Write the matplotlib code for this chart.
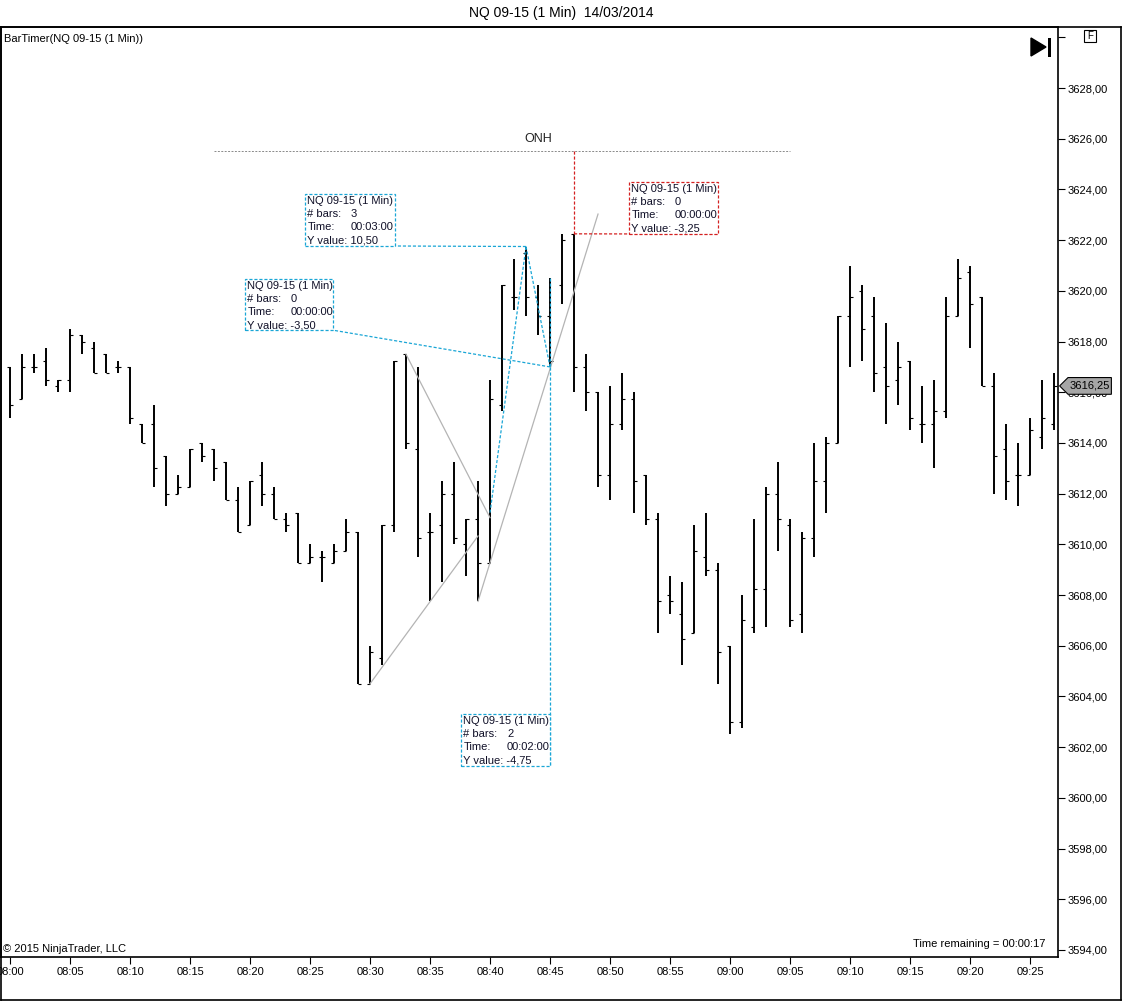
import matplotlib
matplotlib.use("Agg")
import matplotlib.pyplot as plt
from matplotlib.patches import Rectangle, Polygon
from matplotlib.lines import Line2D
import matplotlib.transforms as mtransforms

plt.rcParams['font.family'] = ['Liberation Sans', 'DejaVu Sans']

# ---------------- data ----------------
opens = [3617.0, 3615.75, 3617.0, 3617.25, 3616.25, 3616.5, 3618.25, 3617.75, 3617.5, 3617.0,
         3617.0, 3614.75, 3614.75, 3613.5, 3612.0, 3612.25, 3614.0, 3613.75, 3613.25, 3611.75,
         3610.75, 3612.75, 3612.0, 3611.0, 3611.25, 3609.25, 3609.5, 3609.25, 3609.75, 3610.5,
         3604.5, 3605.5, 3610.75, 3617.5, 3613.75, 3610.5, 3610.75, 3612.0, 3610.0, 3611.0,
         3609.25, 3615.5, 3619.75, 3621.5, 3619.75, 3619.0, 3620.25, 3622.25, 3617.0, 3616.0,
         3612.75, 3614.75, 3615.75, 3612.75, 3611.0, 3608.0, 3607.25, 3606.5, 3609.5, 3609.0,
         3606.0, 3603.0, 3606.75, 3608.25, 3612.0, 3610.75, 3607.25, 3610.25, 3612.5, 3614.0,
         3619.0, 3620.0, 3619.0, 3617.0, 3616.5, 3617.25, 3614.75, 3614.75, 3615.25, 3619.0,
         3620.75, 3619.75, 3616.25, 3613.75, 3612.75, 3612.75, 3614.25, 3614.75]
highs = [3617.0, 3617.5, 3617.5, 3617.75, 3616.5, 3618.5, 3618.25, 3618.0, 3617.5, 3617.25,
         3617.0, 3614.75, 3615.5, 3613.5, 3612.75, 3613.75, 3614.0, 3613.75, 3613.25, 3612.25,
         3612.5, 3613.25, 3612.25, 3611.25, 3611.25, 3610.0, 3609.75, 3610.0, 3611.0, 3610.5,
         3606.0, 3610.75, 3617.25, 3617.5, 3617.0, 3611.25, 3612.5, 3613.25, 3611.0, 3612.5,
         3616.5, 3620.25, 3621.25, 3621.75, 3620.25, 3620.5, 3622.25, 3622.25, 3617.5, 3616.0,
         3616.25, 3616.75, 3616.0, 3612.75, 3611.25, 3608.75, 3608.5, 3610.75, 3611.25, 3609.25,
         3606.0, 3608.0, 3611.0, 3612.25, 3613.25, 3611.0, 3610.5, 3614.0, 3614.25, 3619.0,
         3621.0, 3620.25, 3619.75, 3618.75, 3618.0, 3617.25, 3616.25, 3616.5, 3619.75, 3621.25,
         3621.0, 3619.75, 3616.75, 3614.75, 3614.0, 3615.0, 3616.5, 3616.75]
lows = [3615.0, 3615.75, 3616.75, 3616.25, 3616.0, 3616.0, 3617.5, 3616.75, 3616.75, 3616.75,
        3614.75, 3614.0, 3612.25, 3611.5, 3612.0, 3612.25, 3613.25, 3612.5, 3611.75, 3610.5,
        3610.75, 3611.5, 3611.0, 3610.5, 3609.25, 3609.25, 3608.5, 3609.25, 3609.75, 3604.5,
        3604.5, 3605.25, 3610.5, 3613.75, 3609.5, 3607.75, 3608.5, 3610.0, 3608.75, 3607.75,
        3609.25, 3615.25, 3619.25, 3619.0, 3618.25, 3617.0, 3619.5, 3616.0, 3615.25, 3612.25,
        3611.75, 3614.5, 3611.25, 3610.75, 3606.5, 3607.25, 3605.25, 3606.5, 3608.75, 3604.5,
        3602.5, 3602.75, 3606.5, 3606.75, 3609.75, 3606.75, 3606.5, 3609.5, 3611.25, 3614.0,
        3617.0, 3617.25, 3616.0, 3614.75, 3615.5, 3614.5, 3614.0, 3613.0, 3615.0, 3619.0,
        3617.75, 3616.25, 3612.0, 3611.75, 3611.5, 3612.75, 3613.75, 3614.5]
closes = [3615.5, 3617.0, 3617.0, 3616.5, 3616.5, 3618.25, 3618.0, 3616.75, 3616.75, 3617.0,
          3615.0, 3614.0, 3613.0, 3612.0, 3612.25, 3613.75, 3613.5, 3613.0, 3611.75, 3610.5,
          3612.5, 3612.0, 3611.0, 3610.75, 3609.25, 3609.5, 3609.5, 3609.75, 3610.5, 3604.5,
          3605.75, 3610.75, 3617.25, 3614.0, 3610.25, 3610.5, 3612.0, 3610.25, 3611.0, 3609.25,
          3615.75, 3620.25, 3619.75, 3619.75, 3619.0, 3617.25, 3622.0, 3617.0, 3616.0, 3612.75,
          3614.75, 3615.75, 3612.5, 3611.0, 3607.75, 3607.75, 3606.25, 3609.75, 3609.0, 3605.75,
          3603.0, 3607.0, 3608.25, 3612.0, 3611.0, 3607.0, 3610.25, 3612.5, 3614.0, 3619.0,
          3619.75, 3618.5, 3616.75, 3616.25, 3617.0, 3615.0, 3614.75, 3615.25, 3619.0, 3620.5,
          3619.5, 3616.25, 3613.5, 3612.5, 3612.75, 3614.5, 3615.0, 3616.25]

time_labels = ['08:00', '08:05', '08:10', '08:15', '08:20', '08:25', '08:30', '08:35', '08:40',
               '08:45', '08:50', '08:55', '09:00', '09:05', '09:10', '09:15', '09:20', '09:25']
price_ticks = [3594, 3596, 3598, 3600, 3602, 3604, 3606, 3608, 3610, 3612, 3614, 3616,
               3618, 3620, 3622, 3624, 3626, 3628, 3630]

onh_value = 3625.5
last_price = closes[-1]

# rulers: (start_bar, start_price, end_bar, end_price)
ruler_cyan_1 = (40, 3611.25, 43, 3621.75)   # 3 bars, +10.50
ruler_cyan_2 = (43, 3621.75, 45, 3617.0)    # 2 bars, -4.75
ruler_cyan_3 = (45, 3620.5, 45, 3617.0)     # 0 bars, -3.50
ruler_red = (47, 3625.5, 47, 3622.25)       # 0 bars, -3.25

# gray trend lines: (bar, price, bar, price)
gray_lines = [(30, 3604.5, 39, 3610.33),
              (33, 3617.5, 40, 3611.05),
              (39, 3607.75, 49, 3623.03)]

# ---------------- figure ----------------
W, H = 1122, 1002
fig = plt.figure(figsize=(W / 100, H / 100), dpi=100)
ax_l, ax_r, ax_t, ax_b = 1, 1058, 27, 957
ax = fig.add_axes([ax_l / W, 1 - ax_b / H, (ax_r - ax_l) / W, (ax_b - ax_t) / H])

n = len(opens)
xs = list(range(n))
tick = 0.22
ax.vlines(xs, lows, highs, color='black', lw=1.4)
ax.hlines(opens, [x - tick for x in xs], xs, color='black', lw=0.8)
ax.hlines(closes, xs, [x + tick for x in xs], color='black', lw=0.8)

ax.set_xlim(-0.75, 87.33)
ax.set_ylim(3593.72, 3630.41)

ax.yaxis.tick_right()
ax.set_yticks(price_ticks)
ax.set_yticklabels(['' if p == 3630 else f"{p},00" for p in price_ticks])
ax.set_xticks(list(range(0, 5 * len(time_labels), 5)))
ax.set_xticklabels(time_labels)
ax.tick_params(axis='both', labelsize=8, length=5, width=0.8, color='black', pad=2)
for s in ax.spines.values():
    s.set_linewidth(1.2)

# ONH line
ax.hlines(onh_value, 17, 65, color='#8a8a8a', lw=0.7, linestyles=(0, (2, 1.5)))
ax.text(44, onh_value + 0.25, 'ONH', ha='center', va='bottom', fontsize=9, color='#222222')

# gray lines
for b0, p0, b1, p1 in gray_lines:
    ax.plot([b0, b1], [p0, p1], color='#b4b4b4', lw=0.9)

cyan = '#1aa6d6'
red = '#d42020'
dash = (0, (2.5, 1.5))

def ruler(r, color):
    b0, p0, b1, p1 = r
    ax.plot([b0, b1], [p0, p1], color=color, lw=0.9, linestyle=dash)

def info_box(left, right, top, bottom, nbars, tstr, yval, color, anchor):
    ax.add_patch(Rectangle((left, bottom), right - left, top - bottom, fill=True,
                           facecolor='white', edgecolor=color, lw=0.9, linestyle=dash, zorder=5))
    ax.plot([anchor[0], right], [anchor[1], bottom], color=color, lw=0.9, linestyle=dash, zorder=4)
    lines = [('NQ 09-15 (1 Min)', None), ('# bars:', str(nbars)), ('Time:', tstr),
             ('Y value: ' + yval, None)]
    for k, (a, b) in enumerate(lines):
        ax.annotate(a, xy=(left, top), xytext=(1.5, -1.5 - 9.4 * k), textcoords='offset points',
                    ha='left', va='top', fontsize=8, color='#101028', zorder=6)
        if b is not None:
            ax.annotate(b, xy=(left, top), xytext=(33, -1.5 - 9.4 * k), textcoords='offset points',
                        ha='left', va='top', fontsize=8, color='#101028', zorder=6)

ruler(ruler_cyan_1, cyan)
ruler(ruler_cyan_2, cyan)
ruler(ruler_cyan_3, cyan)
ruler(ruler_red, red)

info_box(24.6, 32.1, 3623.82, 3621.77, 3, '00:03:00', '10,50', cyan, (43, 3621.75))
info_box(19.6, 26.9, 3620.47, 3618.45, 0, '00:00:00', '-3,50', cyan, (45, 3617.0))
info_box(37.6, 45.0, 3603.31, 3601.25, 2, '00:02:00', '-4,75', cyan, (45, 3617.0))
info_box(51.6, 59.0, 3624.29, 3622.24, 0, '00:00:00', '-3,25', red, (47, 3622.25))

# last price tag
trans = mtransforms.blended_transform_factory(ax.transAxes, ax.transData)
tag = Polygon([(1.0015, last_price), (1.0095, last_price + 0.33), (1.0505, last_price + 0.33),
               (1.0505, last_price - 0.33), (1.0095, last_price - 0.33)], closed=True,
              transform=trans, facecolor='#a6a6a6', edgecolor='black', lw=0.8, clip_on=False, zorder=10)
ax.add_patch(tag)
ax.text(1.0105, last_price, f"{last_price:.2f}".replace('.', ','), transform=trans,
        ha='left', va='center', fontsize=8, color='black', clip_on=False, zorder=11)

# texts
fig.text(0.5, 1 - 13 / H, 'NQ 09-15 (1 Min)  14/03/2014', ha='center', va='center', fontsize=10)
fig.text(4 / W, 1 - 39 / H, 'BarTimer(NQ 09-15 (1 Min))', ha='left', va='center', fontsize=8)
fig.text(3 / W, 1 - 949 / H, '\u00a9 2015 NinjaTrader, LLC', ha='left', va='center', fontsize=8)
fig.text(1045 / W, 1 - 944 / H, 'Time remaining = 00:00:17', ha='right', va='center', fontsize=8)

# icons
fig.add_artist(Polygon([(1031 / W, 1 - 38 / H), (1031 / W, 1 - 56 / H), (1046 / W, 1 - 47 / H)],
                       closed=True, transform=fig.transFigure, facecolor='black', edgecolor='black'))
fig.add_artist(Rectangle((1047.5 / W, 1 - 57 / H), 3 / W, 19 / H, transform=fig.transFigure,
                         facecolor='black', edgecolor='none'))
fig.add_artist(Rectangle((1084 / W, 1 - 42 / H), 12 / W, 12 / H, transform=fig.transFigure,
                         facecolor='white', edgecolor='black', lw=0.8))
fig.text(1090 / W, 1 - 36 / H, 'F', ha='center', va='center', fontsize=7)

# outer frame
for (x0, y0, x1, y1) in [(1, 27, 1121, 27), (1121, 27, 1121, 1000), (1, 1000, 1121, 1000), (1, 27, 1, 1000)]:
    fig.add_artist(Line2D([x0 / W, x1 / W], [1 - y0 / H, 1 - y1 / H], transform=fig.transFigure,
                          color='black', lw=1.2))

fig.savefig('out.png', dpi=100)
